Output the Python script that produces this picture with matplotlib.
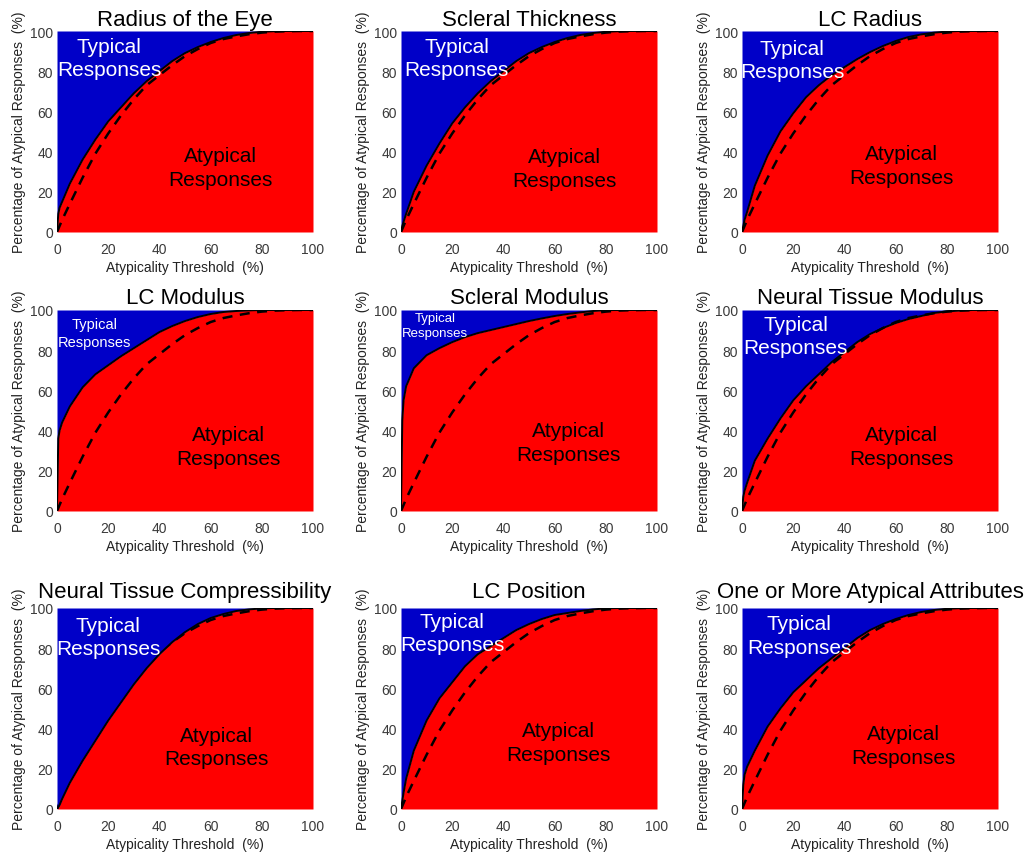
import matplotlib
matplotlib.use("Agg")
import matplotlib.pyplot as plt

plt.rcParams['font.family'] = ['Liberation Sans', 'DejaVu Sans']

X = [0, 0.5, 1, 2, 5, 10, 15, 20, 25, 30, 35, 40, 45, 50, 55, 60, 65, 70, 75, 80, 85, 90, 95, 100]

reference = [0, 1.5, 3, 6, 14, 27, 39, 49, 58, 66, 73, 78, 83, 87.5, 91, 94, 96, 97.3, 98.4, 99.2, 99.7, 99.9, 100, 100]

radius_eye = [0, 9, 12, 15, 24, 36, 46, 55, 62, 69, 75, 80, 85, 89, 92, 94.5, 96.5, 98, 99, 99.6, 99.9, 100, 100, 100]
scleral_thickness = [0, 3, 5, 9, 20, 33, 44, 54, 62, 69, 75, 80, 85, 89, 92, 94.5, 96.5, 98, 99, 99.6, 99.9, 100, 100, 100]
lc_radius = [0, 3, 6, 10, 23, 38, 50, 59, 67, 73, 78, 82, 86, 89.5, 92.5, 95, 97, 98.3, 99.2, 99.7, 100, 100, 100, 100]
lc_modulus = [0, 36, 40, 44, 52, 61.5, 68, 72.5, 77, 81, 85, 89, 92, 94.5, 96.5, 98, 99, 99.5, 99.8, 100, 100, 100, 100, 100]
scleral_modulus = [0, 45, 55, 62, 71, 77.5, 81, 84, 86.5, 88.5, 90, 91.5, 93, 94.5, 95.8, 97, 98, 98.8, 99.5, 99.9, 100, 100, 100, 100]
neural_modulus = [0, 7, 10, 14, 25, 36, 46, 55, 62, 68, 74, 79, 84, 88, 91, 93.5, 95.5, 97, 98.5, 99.3, 99.7, 100, 100, 100]
neural_compress = [0, 1, 2, 5, 13, 24, 34, 44, 53, 62, 70, 77, 83, 88, 92, 95, 97, 98.5, 99.3, 99.8, 100, 100, 100, 100]
lc_position = [0, 4, 8, 15, 29, 44, 55, 63, 71, 77, 81, 85, 89, 92, 94.5, 96.5, 97.5, 98.5, 99.3, 99.8, 100, 100, 100, 100]
one_or_more = [0, 12, 17, 21, 29, 41, 50, 58, 64, 70, 75, 80, 85, 89, 92, 94.5, 96.5, 98, 99, 99.6, 99.9, 100, 100, 100]

titles = ["Radius of the Eye", "Scleral Thickness", "LC Radius",
          "LC Modulus", "Scleral Modulus", "Neural Tissue Modulus",
          "Neural Tissue Compressibility", "LC Position", "One or More Atypical Attributes"]
series = [radius_eye, scleral_thickness, lc_radius,
          lc_modulus, scleral_modulus, neural_modulus,
          neural_compress, lc_position, one_or_more]

typical_pos = [(20.4, 86.5), (21.7, 86.5), (19.7, 85.5),
               (14.8, 88.5), (13.3, 92.3), (21, 87),
               (20, 85.5), (20, 87.5), (22.4, 86.3)]
atypical_pos = [(64, 32), (64, 31.5), (62.3, 33),
                (67, 32), (65.3, 34), (62.3, 32),
                (62.3, 30.8), (61.4, 33), (63, 31.7)]
typical_size = [15, 15, 15, 10.5, 9.5, 15, 15, 15, 15]
title_pad = [4.3, 5, 8]

BLUE = "#0000C8"
RED = "#FF0000"

W, H = 1027, 862
fig = plt.figure(figsize=(W / 100, H / 100), dpi=100)

col_left = [57, 401, 742]
row_top = [32, 311, 609]
aw, ah = 256, 201

for i in range(9):
    r, c = divmod(i, 3)
    ax = fig.add_axes([col_left[c] / W, (H - row_top[r] - ah) / H, aw / W, ah / H])
    y = series[i]
    if i == 6:
        zb, zr, zd = 2.5, 1, 2
    else:
        zb, zr, zd = 1, 2, 4
    ax.fill_between(X, y, 100, color=BLUE, linewidth=0, zorder=zb)
    ax.fill_between(X, 0, y, color=RED, linewidth=0, zorder=zr)
    ax.plot(X, reference, color="black", linestyle=(0, (4, 3)), linewidth=1.8, zorder=zd)
    ax.plot(X, y, color="black", linewidth=1.4, zorder=3)
    ax.set_xlim(0, 100)
    ax.set_ylim(0, 100)
    ax.set_xticks([0, 20, 40, 60, 80, 100])
    ax.set_yticks([0, 20, 40, 60, 80, 100])
    ax.tick_params(length=0, labelsize=10, colors="#3a3a3a")
    ax.tick_params(axis="x", pad=7)
    ax.tick_params(axis="y", pad=3)
    for s in ax.spines.values():
        s.set_visible(False)
    ax.set_xlabel("Atypicality Threshold  (%)", fontsize=10, color="#222222", labelpad=3)
    ax.set_ylabel("Percentage of Atypical Responses  (%)", fontsize=10, color="#222222", labelpad=3)
    ax.set_title(titles[i], fontsize=16, pad=title_pad[r])
    tx, ty = typical_pos[i]
    ax.text(tx, ty, "Typical\nResponses", color="white", fontsize=typical_size[i],
            ha="center", va="center", linespacing=1.3, zorder=5)
    axx, ayy = atypical_pos[i]
    ax.text(axx, ayy, "Atypical\nResponses", color="black", fontsize=15,
            ha="center", va="center", linespacing=1.3, zorder=5)

fig.savefig("out.png", dpi=100)
